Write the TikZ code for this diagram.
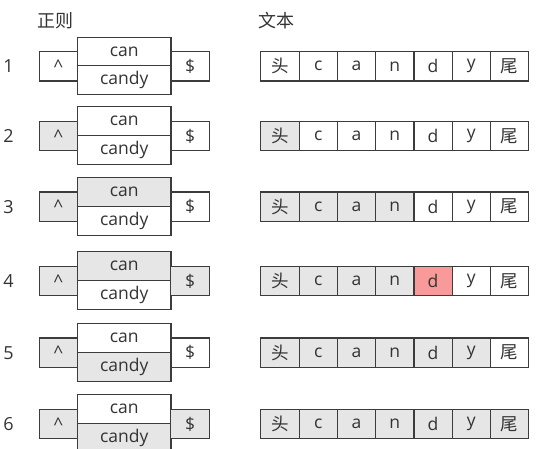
\documentclass[tikz,border=0pt]{standalone}
\usepackage{fontspec}
\setmainfont{Open Sans}
\newfontfamily\cjk{Noto Sans CJK SC}
\usepackage{tikz}

\definecolor{edge}{HTML}{3C3C3C}
\definecolor{ink}{HTML}{333333}
\definecolor{seen}{HTML}{E6E6E6}
\definecolor{miss}{HTML}{F89A9A}

\begin{document}
\begin{tikzpicture}[x=1pt,y=-1pt,
            cell/.style={draw=edge,line width=1.1pt,text=ink,inner sep=0pt,
                minimum width=38.3pt,minimum height=29.5pt,font=\fontsize{17.5}{17.5}\selectfont},
            side/.style={cell,minimum width=38.4pt},
            alt/.style={cell,minimum width=93.3pt,minimum height=28.8pt},
            num/.style={text=ink,font=\fontsize{18}{18}\selectfont},
            title/.style={text=ink,font=\cjk\fontsize{18}{18}\selectfont},
            ]
            \useasboundingbox (0,0) rectangle (540,449);
            \def\hd{{\cjk 头}}
            \def\tl{{\cjk 尾}}

            \node[title] (re) at (55,20.5) {正则};
            \node[title] (tx) at (276.5,20.5) {文本};

            % row 1
            \node[num] (n1) at (8.5,66.3) {1};
            \node[side] (s1) at (58.3,66.3) {\^{}};
            \node[alt] (a1) at (124.3,51.5) {can};
            \node[alt] (b1) at (124.3,80.3) {candy};
            \node[side] (e1) at (190,66.3) {\$};
            \node[cell] (1h) at (279.9,66.3) {\hd};
            \node[cell] (1c) at (318.2,66.3) {c};
            \node[cell] (1a) at (356.5,66.3) {a};
            \node[cell] (1n) at (394.8,66.3) {n};
            \node[cell] (1d) at (433.1,66.3) {d};
            \node[cell] (1y) at (471.4,66.3) {y};
            \node[cell] (1w) at (509.7,66.3) {\tl};

            % row 2
            \node[num] (n2) at (8.5,136) {2};
            \node[side, fill=seen] (s2) at (58.3,136) {\^{}};
            \node[alt] (a2) at (124.3,121.2) {can};
            \node[alt] (b2) at (124.3,150) {candy};
            \node[side] (e2) at (190,136) {\$};
            \node[cell, fill=seen] (2h) at (279.9,136) {\hd};
            \node[cell] (2c) at (318.2,136) {c};
            \node[cell] (2a) at (356.5,136) {a};
            \node[cell] (2n) at (394.8,136) {n};
            \node[cell] (2d) at (433.1,136) {d};
            \node[cell] (2y) at (471.4,136) {y};
            \node[cell] (2w) at (509.7,136) {\tl};

            % row 3
            \node[num] (n3) at (8.5,206.7) {3};
            \node[side, fill=seen] (s3) at (58.3,206.7) {\^{}};
            \node[alt, fill=seen] (a3) at (124.3,191.9) {can};
            \node[alt] (b3) at (124.3,220.7) {candy};
            \node[side] (e3) at (190,206.7) {\$};
            \node[cell, fill=seen] (3h) at (279.9,206.7) {\hd};
            \node[cell, fill=seen] (3c) at (318.2,206.7) {c};
            \node[cell, fill=seen] (3a) at (356.5,206.7) {a};
            \node[cell, fill=seen] (3n) at (394.8,206.7) {n};
            \node[cell] (3d) at (433.1,206.7) {d};
            \node[cell] (3y) at (471.4,206.7) {y};
            \node[cell] (3w) at (509.7,206.7) {\tl};

            % row 4
            \node[num] (n4) at (8.5,281) {4};
            \node[side, fill=seen] (s4) at (58.3,281) {\^{}};
            \node[alt, fill=seen] (a4) at (124.3,266.2) {can};
            \node[alt] (b4) at (124.3,295) {candy};
            \node[side, fill=seen] (e4) at (190,281) {\$};
            \node[cell, fill=seen] (4h) at (279.9,281) {\hd};
            \node[cell, fill=seen] (4c) at (318.2,281) {c};
            \node[cell, fill=seen] (4a) at (356.5,281) {a};
            \node[cell, fill=seen] (4n) at (394.8,281) {n};
            \node[cell, fill=miss] (4d) at (433.1,281) {d};
            \node[cell] (4y) at (471.4,281) {y};
            \node[cell] (4w) at (509.7,281) {\tl};

            % row 5
            \node[num] (n5) at (8.5,352.7) {5};
            \node[side, fill=seen] (s5) at (58.3,352.7) {\^{}};
            \node[alt] (a5) at (124.3,337.9) {can};
            \node[alt, fill=seen] (b5) at (124.3,366.7) {candy};
            \node[side] (e5) at (190,352.7) {\$};
            \node[cell, fill=seen] (5h) at (279.9,352.7) {\hd};
            \node[cell, fill=seen] (5c) at (318.2,352.7) {c};
            \node[cell, fill=seen] (5a) at (356.5,352.7) {a};
            \node[cell, fill=seen] (5n) at (394.8,352.7) {n};
            \node[cell, fill=seen] (5d) at (433.1,352.7) {d};
            \node[cell, fill=seen] (5y) at (471.4,352.7) {y};
            \node[cell] (5w) at (509.7,352.7) {\tl};

            % row 6
            \node[num] (n6) at (8.5,424) {6};
            \node[side, fill=seen] (s6) at (58.3,424) {\^{}};
            \node[alt] (a6) at (124.3,409.2) {can};
            \node[alt, fill=seen] (b6) at (124.3,438) {candy};
            \node[side, fill=seen] (e6) at (190,424) {\$};
            \node[cell, fill=seen] (6h) at (279.9,424) {\hd};
            \node[cell, fill=seen] (6c) at (318.2,424) {c};
            \node[cell, fill=seen] (6a) at (356.5,424) {a};
            \node[cell, fill=seen] (6n) at (394.8,424) {n};
            \node[cell, fill=seen] (6d) at (433.1,424) {d};
            \node[cell, fill=seen] (6y) at (471.4,424) {y};
            \node[cell, fill=seen] (6w) at (509.7,424) {\tl};
        \end{tikzpicture}
\end{document}
